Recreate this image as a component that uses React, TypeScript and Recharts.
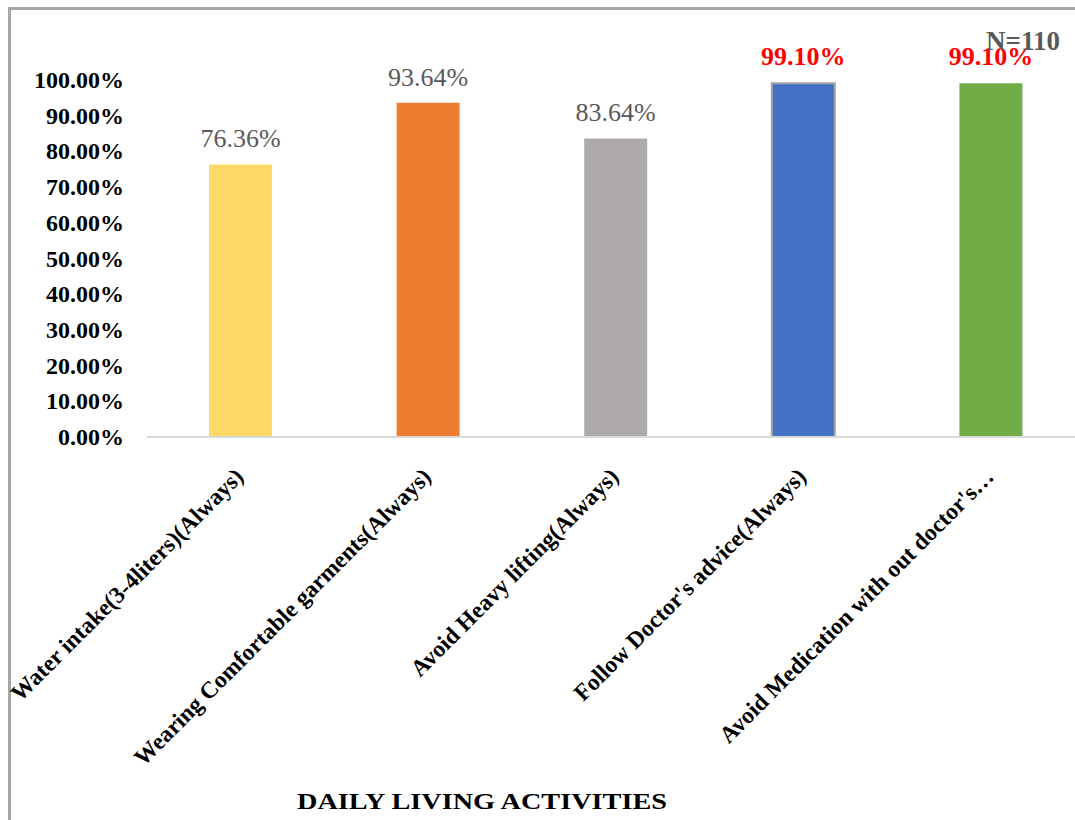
import React from "react";
import { BarChart, Bar, XAxis, YAxis, Cell, LabelList } from "recharts";

const categories = [
  "Water intake(3-4liters)(Always)",
  "Wearing Comfortable garments(Always)",
  "Avoid Heavy lifting(Always)",
  "Follow Doctor's advice(Always)",
  "Avoid Medication with out doctor's\u2026",
];
const values = [0.7636, 0.9364, 0.8364, 0.991, 0.991];
const valueLabels = ["76.36%", "93.64%", "83.64%", "99.10%", "99.10%"];
const highlighted = [false, false, false, true, true];
const colors = ["#FED966", "#ED7D31", "#AEAAAA", "#4472C4", "#70AD47"];
const yTicks = [0, 0.1, 0.2, 0.3, 0.4, 0.5, 0.6, 0.7, 0.8, 0.9, 1.0];

const data = categories.map((name, i) => ({ name, value: values[i], label: valueLabels[i] }));

const FONT = "'Liberation Serif', 'Times New Roman', serif";

const XTick = (props: any) => {
  const { x, y, payload } = props;
  return (
    <g transform={`translate(${x + 4},${y + 41})`}>
      <text
        x={0}
        y={0}
        transform="rotate(-45)"
        textAnchor="end"
        fontFamily={FONT}
        fontWeight="bold"
        fontSize={23.5}
        fill="#000"
      >
        {payload.value}
      </text>
    </g>
  );
};

const YTick = (props: any) => {
  const { x, y, payload } = props;
  return (
    <text
      x={x - 23}
      y={y}
      dy={8}
      textAnchor="end"
      fontFamily={FONT}
      fontWeight="bold"
      fontSize={24}
      fill="#000"
    >
      {(payload.value * 100).toFixed(2) + "%"}
    </text>
  );
};

const ValueLabel = (props: any) => {
  const { x, y, width, index } = props;
  const hi = highlighted[index];
  return (
    <text
      x={x + width / 2}
      y={y - (hi ? 18 : 17)}
      textAnchor="middle"
      fontFamily={FONT}
      fontWeight={hi ? "bold" : "normal"}
      fontSize={26}
      fill={hi ? "#FF0000" : "#595959"}
    >
      {valueLabels[index]}
    </text>
  );
};

export default function App() {
  return (
    <div
      style={{
        position: "absolute",
        left: 0,
        top: 0,
        width: 1075,
        height: 820,
        overflow: "hidden",
        background: "#fff",
      }}
    >
      <div
        style={{
          position: "absolute",
          left: 8,
          top: 7,
          width: 1100,
          height: 900,
          borderLeft: "3px solid #a6a6a6",
          borderTop: "3px solid #a6a6a6",
          boxSizing: "border-box",
        }}
      />
      <div style={{ position: "absolute", left: 0, top: 0 }}>
        <BarChart
          width={1095}
          height={820}
          data={data}
          margin={{ top: 80, right: 10, left: 0, bottom: 0 }}
        >
          <XAxis
            dataKey="name"
            height={383}
            interval={0}
            tickLine={false}
            tickSize={0}
            tickMargin={0}
            axisLine={{ stroke: "#d9d9d9", strokeWidth: 2 }}
            tick={<XTick />}
          />
          <YAxis
            width={147}
            domain={[0, 1]}
            ticks={yTicks}
            axisLine={false}
            tickLine={false}
            tickSize={0}
            tickMargin={0}
            tick={<YTick />}
          />
          <Bar dataKey="value" barSize={63} isAnimationActive={false}>
            {data.map((d, i) => (
              <Cell
                key={d.name}
                fill={colors[i]}
                stroke={i === 3 ? "#a5a5a5" : "none"}
                strokeWidth={i === 3 ? 2 : 0}
              />
            ))}
            <LabelList dataKey="label" content={<ValueLabel />} />
          </Bar>
        </BarChart>
      </div>
      <svg
        width={1075}
        height={820}
        style={{ position: "absolute", left: 0, top: 0, pointerEvents: "none" }}
      >
        <text
          x={986}
          y={50}
          fontFamily={FONT}
          fontWeight="bold"
          fontSize={27}
          fill="#595959"
        >
          N=110
        </text>
        <text
          x={297}
          y={809}
          fontFamily={FONT}
          fontWeight="bold"
          fontSize={24}
          textLength={370}
          lengthAdjust="spacingAndGlyphs"
          fill="#000"
        >
          DAILY LIVING ACTIVITIES
        </text>
      </svg>
    </div>
  );
}
